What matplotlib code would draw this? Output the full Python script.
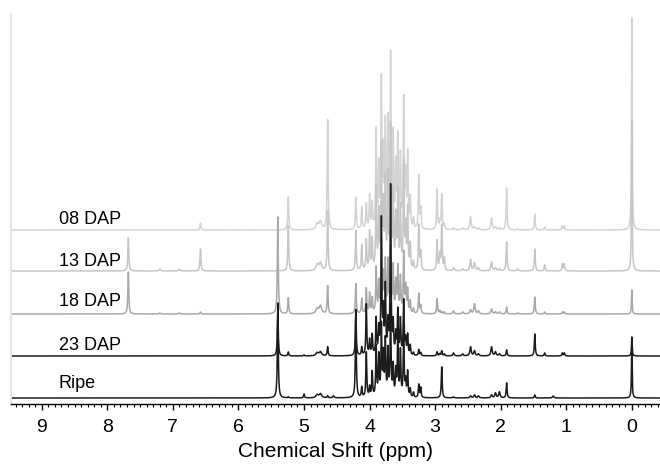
import numpy as np
import matplotlib
matplotlib.use("Agg")
import matplotlib.pyplot as plt
from matplotlib.ticker import MultipleLocator

plt.rcParams['font.family'] = ['Liberation Sans', 'DejaVu Sans']

# ---- data: peak table (ppm, widths) ----
peak_ppm = [7.68, 7.20, 6.90, 6.58, 5.40, 5.24, 5.00, 4.80, 4.75, 4.64, 4.55,
            4.21, 4.12, 4.05, 4.00, 3.96, 3.90, 3.86, 3.82, 3.79, 3.76, 3.72,
            3.68, 3.64, 3.60, 3.57, 3.53, 3.48, 3.45, 3.42, 3.38, 3.33, 3.25,
            3.22, 2.97, 2.93, 2.90, 2.86, 2.72, 2.58, 2.46, 2.40, 2.34, 2.14,
            2.08, 2.02, 1.91, 1.74, 1.48, 1.33, 1.20, 1.06, 1.03, 0.00]
peak_w = [0.008, 0.012, 0.012, 0.008, 0.008, 0.008, 0.008, 0.022, 0.022, 0.008, 0.012,
          0.008, 0.008, 0.008, 0.008, 0.008, 0.008, 0.008, 0.008, 0.008, 0.008, 0.008,
          0.008, 0.008, 0.008, 0.008, 0.008, 0.008, 0.008, 0.008, 0.008, 0.008, 0.008,
          0.008, 0.008, 0.008, 0.008, 0.008, 0.012, 0.012, 0.012, 0.012, 0.012, 0.012,
          0.012, 0.012, 0.008, 0.012, 0.008, 0.008, 0.012, 0.008, 0.008, 0.006]

h_08 = [0, 0, 0, 7, 0, 33, 0, 6, 8, 110, 0,
        32, 22, 25, 33, 25, 97, 60, 145, 70, 100, 103,
        169, 90, 60, 88, 70, 127, 50, 73, 30, 10, 53,
        20, 40, 8, 35, 5, 2, 2, 13, 3, 2, 12,
        3, 2, 42, 1, 16, 3, 0, 4, 4, 212]
h_13 = [33, 2, 2, 22, 0, 45, 0, 6, 8, 60, 0,
        40, 25, 30, 38, 30, 80, 55, 120, 60, 85, 90,
        140, 75, 50, 75, 60, 105, 40, 60, 25, 8, 45,
        18, 30, 15, 45, 12, 3, 2, 11, 8, 3, 9,
        3, 2, 29, 2, 22, 6, 0, 7, 7, 150]
h_18 = [42, 1, 1, 2, 97, 16, 0, 5, 8, 28, 0,
        30, 15, 25, 20, 15, 45, 30, 70, 35, 50, 50,
        80, 45, 30, 45, 35, 60, 25, 23, 12, 5, 20,
        8, 15, 3, 2, 2, 3, 2, 4, 10, 3, 5,
        2, 2, 7, 1, 17, 2, 0, 2, 2, 24]
h_23 = [0, 0, 0, 0, 46, 4, 1, 3, 4, 9, 0,
        46, 8, 51, 15, 20, 36, 25, 134, 40, 66, 30,
        168, 30, 20, 44, 35, 54, 15, 20, 10, 3, 6,
        3, 4, 2, 5, 2, 3, 2, 9, 5, 2, 9,
        4, 2, 6, 0, 22, 3, 0, 3, 3, 19]
h_ripe = [0, 0, 0, 0, 95, 1, 4, 3, 4, 2, 2,
          88, 10, 45, 10, 25, 50, 40, 70, 40, 55, 45,
          90, 30, 25, 60, 45, 65, 15, 25, 8, 5, 13,
          10, 0, 0, 31, 0, 1, 0, 2, 3, 2, 3,
          5, 6, 15, 0, 3, 0, 2, 0, 0, 55]

series_names = ['08 DAP', '13 DAP', '18 DAP', '23 DAP', 'Ripe']
series_heights = [h_08, h_13, h_18, h_23, h_ripe]
series_offsets = [174, 133, 90, 48, 6]
series_label_y = [184, 143, 102, 59, 21]
series_colors = ['#d3d3d3', '#c6c6c6', '#a8a8a8', '#1c1c1c', '#1c1c1c']

# ---- figure ----
fig = plt.figure(figsize=(6.6, 4.65), dpi=100)
ax = fig.add_axes([11/660, 61/465, 1 - 11/660, 390/465])

x = np.linspace(9.6, -0.6, 10201)
pp = np.array(peak_ppm)
ww = np.array(peak_w)
for name, hs, off, ly, col in zip(series_names, series_heights, series_offsets,
                                  series_label_y, series_colors):
    hs = np.array(hs, dtype=float)
    y = np.zeros_like(x)
    for p0, w0, h0 in zip(pp, ww, hs):
        if h0 > 0:
            y += h0 / (1 + ((x - p0) / w0) ** 2)
    ax.plot(x, y + off, color=col, lw=1.1, solid_joinstyle='round')
    ax.text(8.74, ly, name, ha='left', va='center', fontsize=13, color='black')

ax.set_xlim(9.47, -0.43)
ax.set_ylim(0, 390)
ax.set_yticks([])
for s in ['top', 'right']:
    ax.spines[s].set_visible(False)
ax.spines['left'].set_color('#e6e6e6')
ax.spines['left'].set_linewidth(1.5)
ax.spines['bottom'].set_linewidth(1.0)
ax.xaxis.set_major_locator(MultipleLocator(1))
ax.xaxis.set_minor_locator(MultipleLocator(0.1))
ax.tick_params(axis='x', which='major', direction='out', length=4, width=1.0,
               labelsize=14, pad=7)
ax.tick_params(axis='x', which='minor', direction='out', length=2, width=0.8)
ax.set_xlabel('Chemical Shift (ppm)', fontsize=15, labelpad=4)

fig.savefig('out.png', dpi=100)
